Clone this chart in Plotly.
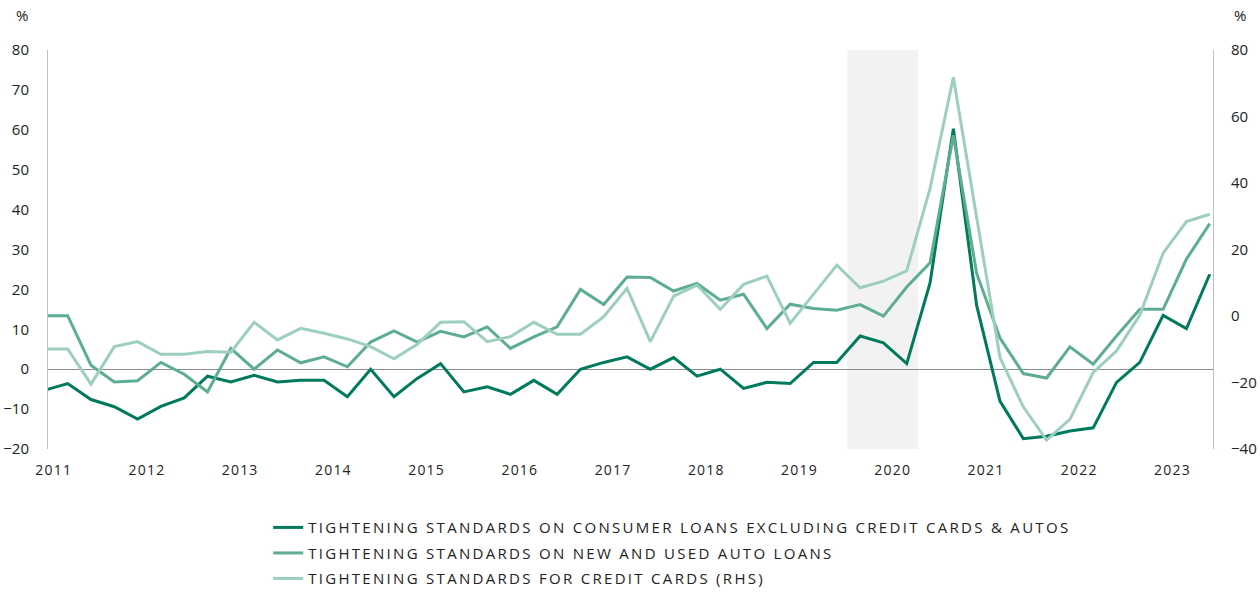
import plotly.graph_objects as go

# Quarterly observations, 2011Q1 .. 2023Q3
quarters = [f"{y}Q{q}" for y in range(2011, 2024) for q in range(1, 5)][:51]

consumer_ex_cc_auto = [-5.3, -3.6, -7.6, -9.4, -12.5, -9.3, -7.2, -1.75, -3.2, -1.5,
                       -3.2, -2.8, -2.8, -6.9, 0.0, -6.9, -2.3, 1.4, -5.7, -4.4,
                       -6.3, -2.8, -6.3, 0.0, 1.7, 3.1, 0.0, 2.9, -1.75, 0.0,
                       -4.8, -3.3, -3.6, 1.7, 1.7, 8.3, 6.6, 1.4, 21.6, 60.3,
                       16.0, -8.0, -17.4, -16.8, -15.5, -14.7, -3.3, 1.7, 13.5, 10.2,
                       23.8]
auto_loans = [13.4, 13.4, 1.0, -3.2, -2.9, 1.7, -1.25, -5.7, 5.2, 0.0,
              4.8, 1.6, 3.1, 0.6, 6.8, 9.6, 6.8, 9.5, 8.1, 10.6,
              5.2, 8.1, 10.6, 20.0, 16.2, 23.1, 23.0, 19.6, 21.5, 17.3,
              18.8, 10.2, 16.3, 15.2, 14.8, 16.2, 13.3, 20.6, 26.7, 58.6,
              24.0, 7.8, -1.1, -2.2, 5.6, 1.25, 8.3, 15.0, 15.0, 27.6,
              36.5]
credit_cards_rhs = [-9.9, -9.9, -20.5, -9.2, -7.7, -11.5, -11.5, -10.7, -10.9, -1.9,
                    -7.2, -3.7, -5.2, -6.9, -9.2, -12.9, -8.5, -1.9, -1.7, -7.7,
                    -6.2, -1.9, -5.5, -5.5, -0.2, 8.3, -7.7, 6.0, 9.3, 2.0,
                    9.5, 12.0, -2.2, 6.6, 15.3, 8.5, 10.5, 13.6, 38.4, 71.8,
                    29.0, -12.5, -27.3, -37.3, -31.1, -17.0, -10.5, 0.3, 18.9, 28.4,
                    30.6]

series_names = [
    "TIGHTENING STANDARDS ON CONSUMER LOANS EXCLUDING CREDIT CARDS &amp; AUTOS",
    "TIGHTENING STANDARDS ON NEW AND USED AUTO LOANS",
    "TIGHTENING STANDARDS FOR CREDIT CARDS (RHS)",
]
years = list(range(2011, 2024))
left_ticks = [-20, -10, 0, 10, 20, 30, 40, 50, 60, 70, 80]
right_ticks = [-40, -20, 0, 20, 40, 60, 80]
recession = ("2019Q3", "2020Q2")

def qnum(q):
    return int(q[:4]) + (int(q[-1]) - 1) / 4

x = [qnum(q) for q in quarters]

C_DARK = "#007A5C"
C_MED = "#5DAE8F"
C_LIGHT = "#9DCFBE"

fig = go.Figure()
fig.add_trace(go.Scatter(x=x, y=consumer_ex_cc_auto, name=series_names[0], mode="lines",
                         legendgroup="a", line=dict(color=C_DARK, width=3)))
fig.add_trace(go.Scatter(x=x, y=auto_loans, name=series_names[1], mode="lines",
                         legendgroup="b", line=dict(color=C_MED, width=3)))
fig.add_trace(go.Scatter(x=x, y=credit_cards_rhs, name=series_names[2], mode="lines",
                         legendgroup="c", line=dict(color=C_LIGHT, width=3), yaxis="y2"))

fig.add_shape(type="rect", xref="x", yref="paper",
              x0=qnum(recession[0]) + 0.113, x1=qnum(recession[1]) + 0.123, y0=0, y1=1,
              fillcolor="#F2F2F2", line_width=0, layer="below")

font = "Open Sans, DejaVu Sans, sans-serif"
fig.update_layout(
    width=1260, height=593,
    margin=dict(l=48, r=47, t=50, b=144, autoexpand=False),
    plot_bgcolor="white", paper_bgcolor="white",
    font=dict(family=font, size=15, color="#222222"),
    showlegend=True,
    legend=dict(x=0.189, xanchor="left", yref="container", y=0.138, yanchor="top",
                font=dict(size=15, color="#222222"), traceorder="grouped",
                tracegroupgap=3, itemwidth=30, bgcolor="rgba(0,0,0,0)"),
    xaxis=dict(range=[2011.039, 2023.535], tickmode="array",
               tickvals=[y + 0.1 for y in years], ticktext=[str(y) for y in years],
               showgrid=False, zeroline=False, showline=False, ticks="",
               automargin=False, ticklabelstandoff=11, tickfont=dict(size=14)),
    yaxis=dict(range=[-20, 80], tickmode="array", tickvals=left_ticks,
               showgrid=False, zeroline=True, zerolinecolor="#8C8C8C", zerolinewidth=1,
               showline=True, linecolor="#BFBFBF", linewidth=1, ticks="",
               automargin=False, ticklabelstandoff=15, tickfont=dict(size=15)),
    yaxis2=dict(range=[-40, 80], tickmode="array", tickvals=right_ticks,
                overlaying="y", side="right", showgrid=False, zeroline=False,
                showline=True, linecolor="#BFBFBF", linewidth=1, ticks="",
                automargin=False, ticklabelstandoff=14, tickfont=dict(size=15)),
    annotations=[
        dict(text="%", xref="paper", yref="paper", x=-0.0223, y=1.088,
             xanchor="center", yanchor="middle", showarrow=False, font=dict(size=15)),
        dict(text="%", xref="paper", yref="paper", x=1.023, y=1.088,
             xanchor="center", yanchor="middle", showarrow=False, font=dict(size=15)),
    ],
)

post = """
var st=document.createElement('style');
st.innerHTML='html,body{margin:0;padding:0;} .legendtext{letter-spacing:2.3px;} .xtick text{letter-spacing:1.2px;}';
document.head.appendChild(st);
document.querySelectorAll('.legend [clip-path], .legend').forEach(function(e){e.removeAttribute('clip-path');});
"""
fig.write_html("out.html", post_script=post, config={"displayModeBar": False})
